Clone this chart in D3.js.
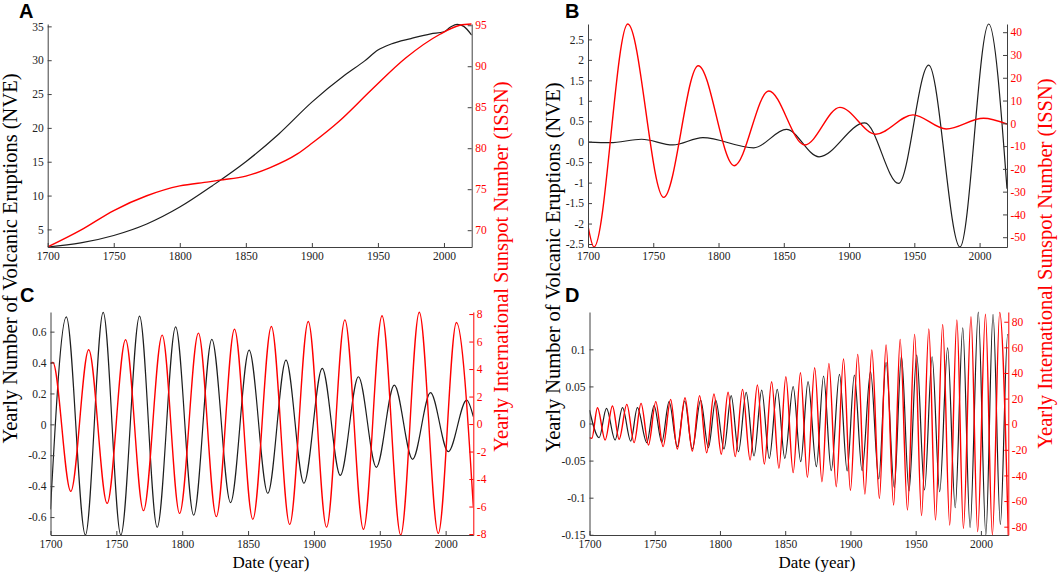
<!DOCTYPE html>
<html><head><meta charset="utf-8">
<script src="https://cdn.jsdelivr.net/npm/d3@7"></script>
<style>
html,body{margin:0;padding:0;background:#fff;}
svg{display:block;}
</style></head><body>
<svg id="chart" width="1059" height="573"></svg>
<script>
// ---------------- DATA ----------------
const xDomain = [1700, 2021];
const xTicks = [1700, 1750, 1800, 1850, 1900, 1950, 2000];

// Panel A: trend components
const aNve = [[1700,2.4],[1725,3.0],[1750,4.1],[1775,5.8],[1800,8.3],[1825,11.5],[1850,15.0],[1875,19.1],[1900,23.8],[1925,27.8],[1940,29.9],[1950,31.5],[1960,32.4],[1975,33.2],[1990,33.9],[2000,34.2],[2005,34.9],[2010,35.3],[2015,35.0],[2021,33.7]];
const aIssn = [[1700,67.95],[1725,70.0],[1750,72.4],[1775,74.2],[1800,75.4],[1822,75.9],[1830,76.1],[1850,76.6],[1868,77.6],[1889,79.3],[1900,80.6],[1920,83.2],[1945,87.1],[1971,91.0],[1997,93.9],[2012,95.0],[2021,95.15]];
const aLeftTicks = [5,10,15,20,25,30,35];
const aRightTicks = [70,75,80,85,90,95];

// Panel B: long-period components
const bNve = [[1700,-0.01],[1717,-0.025],[1741,0.06],[1765,-0.08],[1788,0.1],[1827,-0.15],[1852,0.3],[1877,-0.37],[1912,0.46],[1938,-1.02],[1961,1.87],[1985,-2.573],[2007,2.876],[2021,-1.15]];
const bIssn = [[1700,-45],[1704.6,-54.3],[1730.5,43.6],[1758,-32.5],[1784.5,25.3],[1812,-18.6],[1838.5,14.2],[1866,-9.5],[1893,7.0],[1920.5,-4.8],[1949,3.7],[1974.5,-2.5],[2003,2.2],[2021,-0.3]];
const bLeftTicks = [-2.5,-2,-1.5,-1,-0.5,0,0.5,1,1.5,2,2.5];
const bRightTicks = [-50,-40,-30,-20,-10,0,10,20,30,40];

// Panel C: ~27-yr components
const cNve = [[1700,-0.55],[1712,0.696],[1726.5,-0.716],[1740,0.724],[1753.4,-0.716],[1767.6,0.70],[1781,-0.666],[1795,0.631],[1808.7,-0.588],[1822.5,0.55],[1836.7,-0.506],[1850.8,0.48],[1865,-0.446],[1878.8,0.416],[1892.4,-0.381],[1906.3,0.362],[1920,-0.33],[1933.8,0.308],[1947.4,-0.278],[1961,0.254],[1974.9,-0.226],[1988.5,0.205],[2002,-0.177],[2016,0.157],[2021,0.05]];
const cIssn = [[1700,4.4],[1701.8,4.48],[1715.4,-4.9],[1729,5.4],[1743,-5.77],[1757,6.13],[1770.6,-6.3],[1784.8,6.47],[1798,-6.5],[1812.3,6.61],[1825.9,-6.73],[1839.7,6.9],[1853.6,-6.93],[1867.7,7.1],[1881.6,-7.3],[1895.7,7.46],[1909.6,-7.5],[1923.5,7.58],[1937.6,-7.66],[1951.7,7.88],[1965.9,-8.07],[1980,8.13],[1994.4,-7.95],[2008.2,7.39],[2021,-6.0]];
const cLeftTicks = [-0.6,-0.4,-0.2,0,0.2,0.4,0.6];
const cRightTicks = [-8,-6,-4,-2,0,2,4,6,8];

// Panel D: ~11-yr components
const dNve = [[1700,0.018],[1707.4,-0.0191],[1713,0.0204],[1719.6,-0.0222],[1725.3,0.0213],[1731.6,-0.0236],[1736.7,0.0213],[1743.9,-0.0258],[1749.5,0.024],[1755.4,-0.0254],[1761,0.0294],[1767.3,-0.0312],[1773,0.0303],[1778.8,-0.0344],[1785.2,0.0317],[1791.1,-0.0326],[1796.7,0.0317],[1803.1,-0.0344],
  [1808.6,0.0375],[1814.2,-0.038],[1820.1,0.042],[1826.1,-0.0438],[1832,0.0451],[1837.8,-0.047],[1843.9,0.046],[1849.7,-0.047],[1856.1,0.0496],[1861.9,-0.0514],[1867.5,0.0564],[1873.9,-0.0582],[1879.4,0.064],[1885.3,-0.0636],[1891.6,0.0663],[1897.5,-0.064],[1903,0.0654],[1908.9,-0.0636],
  [1915.4,0.0699],[1921.7,-0.0748],[1927.3,0.0824],[1933.6,-0.0865],[1939.1,0.091],[1944.9,-0.091],[1950.8,0.0923],[1956.8,-0.0896],[1962.6,0.09],[1968.4,-0.0919],[1974.5,0.102],[1980.3,-0.1134],[1986.1,0.129],[1991.7,-0.140],[1998,0.150],[2003.8,-0.150],[2009.3,0.147],[2014.9,-0.136],[2020.5,0.12],[2021,0.119]];
const dIssn = [[1700,-10.5],[1701.8,-11.0],[1706.1,12.9],[1712,-12.3],[1717.6,14.2],[1722.7,-11.8],[1728.6,15.5],[1734.2,-14.4],[1739.5,16.3],[1745.2,-16.2],[1750.8,17.6],[1756.4,-17.5],[1762.2,19.4],[1767.3,-19.4],[1773.2,20.7],[1778.8,-21.0],[1784.4,22.3],[1789.8,-22.3],[1795.4,23.6],[1801,-23.5],
  [1806.2,24.9],[1811.7,-25.3],[1817.3,27.2],[1823.1,-27.9],[1828.7,30.6],[1834,-31.1],[1839.6,33.2],[1845.2,-34.5],[1850.5,37.1],[1856.1,-37.8],[1861.7,40.2],[1867,-41.5],[1872.6,44.1],[1878.2,-44.9],[1883.5,47.5],[1889.1,-48.8],[1894.7,50.9],[1900,-51.6],[1905.6,54.5],[1911.1,-54.5],
  [1916.4,57.9],[1922.2,-57.9],[1927.3,61.8],[1933.1,-63.1],[1938.1,66.2],[1943.7,-67.0],[1949.2,70.1],[1954.5,-71.4],[1960.1,74.3],[1965.2,-74.8],[1970.7,77.9],[1976.1,-78.7],[1981.6,81.3],[1986.6,-81.3],[1992.4,83.9],[1997.5,-83.9],[2003.5,85.8],[2008.8,-86.5],[2014.4,87.3],[2021,-86.5]];
const dLeftTicks = [-0.15,-0.1,-0.05,0,0.05,0.1];
const dRightTicks = [-80,-60,-40,-20,0,20,40,60,80];

const panelLetters = ["A","B","C","D"];
const nveLabel = "Yearly Number of Volcanic Eruptions (NVE)";
const issnLabel = "Yearly International Sunspot Number (ISSN)";
const xLabel = "Date (year)";

// ---------------- LAYOUT ----------------
const svg = d3.select("#chart");
const SERIF = "'Liberation Serif','Times New Roman',serif";
const SANS = "'Liberation Sans',Arial,sans-serif";
const AXIS = "#404040";
const RED = "#ff0000";
const BLACK = "#1e1e1e";

const panels = [
  {id:"A", nve:aNve, issn:aIssn, lt:aLeftTicks, rt:aRightTicks, left:47.7, right:471.7, top:24, bottom:247, ld:[2.4,35.35], rd:[67.95,95.15], redAxis:false, lx:19, ly:18},
  {id:"B", nve:bNve, issn:bIssn, lt:bLeftTicks, rt:bRightTicks, left:588, right:1007, top:24, bottom:247, ld:[-2.573,2.876], rd:[-54.3,43.6], redAxis:false, lx:565, ly:18},
  {id:"C", nve:cNve, issn:cIssn, lt:cLeftTicks, rt:cRightTicks, left:50.5, right:473.3, top:312, bottom:535, ld:[-0.716,0.727], rd:[-8.07,8.15], redAxis:true, lx:20, ly:302},
  {id:"D", nve:dNve, issn:dIssn, lt:dLeftTicks, rt:dRightTicks, left:589.5, right:1008.3, top:312, bottom:535, ld:[-0.1503,0.1503], rd:[-86.5,87.6], redAxis:true, lx:565, ly:302}
];

function styleAxis(g, lineColor, textColor) {
  g.attr("font-family", SERIF).attr("font-size", 11.5);
  g.select(".domain").attr("stroke", lineColor).attr("stroke-width", 1);
  g.selectAll(".tick line").attr("stroke", lineColor).attr("stroke-width", 1);
  g.selectAll(".tick text").attr("fill", textColor);
}

panels.forEach((p, i) => {
  const x = d3.scaleLinear().domain(xDomain).range([p.left, p.right]);
  const yL = d3.scaleLinear().domain(p.ld).range([p.bottom, p.top]);
  const yR = d3.scaleLinear().domain(p.rd).range([p.bottom, p.top]);

  const clipId = "clip" + p.id;
  svg.append("clipPath").attr("id", clipId).append("rect")
    .attr("x", p.left).attr("y", p.top - 1)
    .attr("width", p.right - p.left).attr("height", p.bottom - p.top + 2);

  const plot = svg.append("g").attr("clip-path", `url(#${clipId})`);
  const lineL = d3.line().x(d => x(d[0])).y(d => yL(d[1])).curve(d3.curveMonotoneX);
  const lineR = d3.line().x(d => x(d[0])).y(d => yR(d[1])).curve(d3.curveMonotoneX);
  plot.append("path").datum(p.nve).attr("d", lineL)
    .attr("fill", "none").attr("stroke", BLACK).attr("stroke-width", 1.2);
  plot.append("path").datum(p.issn).attr("d", lineR)
    .attr("fill", "none").attr("stroke", RED).attr("stroke-width", 1.4);

  const gx = svg.append("g").attr("transform", `translate(0,${p.bottom})`)
    .call(d3.axisBottom(x).tickValues(xTicks).tickSizeInner(-4).tickSizeOuter(0).tickPadding(5).tickFormat(d => String(d)));
  styleAxis(gx, AXIS, "#222");

  const gl = svg.append("g").attr("transform", `translate(${p.left},0)`)
    .call(d3.axisLeft(yL).tickValues(p.lt).tickSizeInner(-4).tickSizeOuter(0).tickPadding(4).tickFormat(d => String(d)));
  styleAxis(gl, AXIS, "#222");

  const gr = svg.append("g").attr("transform", `translate(${p.right},0)`)
    .call(d3.axisRight(yR).tickValues(p.rt).tickSizeInner(-4).tickSizeOuter(0).tickPadding(3.5).tickFormat(d => String(d)));
  styleAxis(gr, p.redAxis ? RED : AXIS, RED);

  svg.append("text").attr("x", p.lx).attr("y", p.ly)
    .attr("font-family", SANS).attr("font-weight", "bold").attr("font-size", 20)
    .attr("fill", "#000").text(panelLetters[i]);
});

// shared y labels
function vLabel(txt, xb, yc, color) {
  svg.append("text")
    .attr("transform", `translate(${xb},${yc}) rotate(-90)`)
    .attr("text-anchor", "middle")
    .attr("font-family", SERIF).attr("font-size", 20.5)
    .attr("fill", color).text(txt);
}
vLabel(nveLabel, 17, 258.5, "#000");
vLabel(issnLabel, 508, 266.5, RED);
vLabel(nveLabel, 559.5, 267.5, "#000");
vLabel(issnLabel, 1052, 263.5, RED);

// x labels
[[271, 568], [817, 568]].forEach(([cx, by]) => {
  svg.append("text").attr("x", cx).attr("y", by).attr("text-anchor", "middle")
    .attr("font-family", SERIF).attr("font-size", 17).attr("fill", "#000").text(xLabel);
});
</script>
</body></html>
